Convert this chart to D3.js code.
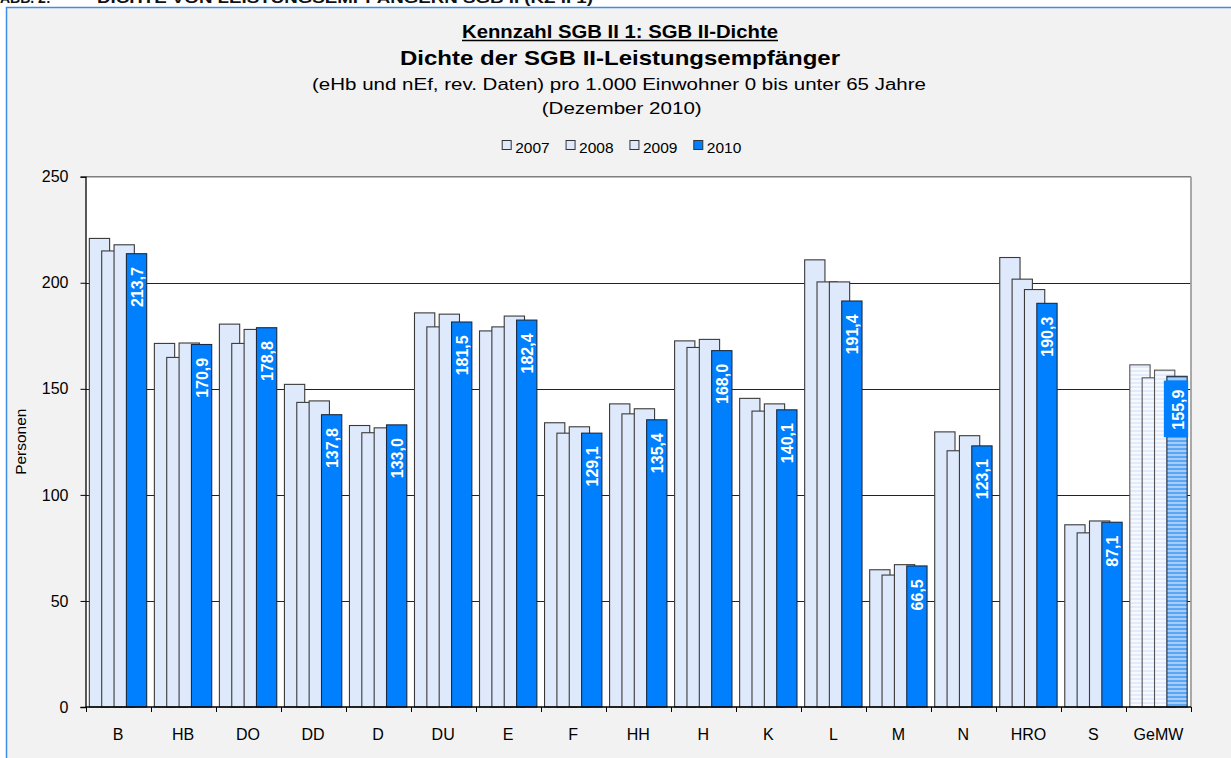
<!DOCTYPE html>
<html><head><meta charset="utf-8">
<script src="https://cdn.jsdelivr.net/npm/d3@7"></script>
<style>
html,body{margin:0;padding:0;background:#fff;}
svg{display:block;font-family:"Liberation Sans",Arial,sans-serif;}
</style></head>
<body>
<svg id="chart" width="1231" height="758"></svg>
<script>
const categories = ["B","HB","DO","DD","D","DU","E","F","HH","H","K","L","M","N","HRO","S","GeMW"];
const years = ["2007","2008","2009","2010"];
const v2007 = [220.9,171.4,180.5,152.1,132.7,185.8,177.3,134.0,142.9,172.6,145.5,210.8,64.7,129.7,211.9,85.9,161.3];
const v2008 = [215.0,164.8,171.4,143.6,129.3,179.2,179.2,129.1,138.2,169.5,139.5,200.4,62.2,120.8,201.7,82.1,155.2];
const v2009 = [217.9,171.6,178.0,144.3,131.6,185.2,184.3,132.1,140.6,173.3,142.9,200.4,67.1,127.9,196.8,87.7,158.8];
const v2010 = [213.7,170.9,178.8,137.8,133.0,181.5,182.4,129.1,135.4,168.0,140.1,191.4,66.5,123.1,190.3,87.1,155.9];
const yTicks = [0,50,100,150,200,250];
const seriesValues = [v2007,v2008,v2009,v2010];

const svg = d3.select("#chart");
const defs = svg.append("defs");
function stripes(id, c1, c2){
  const p = defs.append("pattern").attr("id",id).attr("patternUnits","userSpaceOnUse")
    .attr("width",4).attr("height",4);
  p.append("rect").attr("width",4).attr("height",4).attr("fill",c1);
  p.append("rect").attr("y",2).attr("width",4).attr("height",2).attr("fill",c2);
}
stripes("hatchLight","#f6f9fe","#e3ebfa");
stripes("hatchBlue","#5aa6f4","#a6cdf8");

// page header (cut off at top)
svg.append("text").attr("x",0).attr("y",3).attr("font-size",14).attr("font-weight","bold")
  .attr("fill","#111").text("ABB. 2:");
svg.append("text").attr("x",97).attr("y",3).attr("font-size",14).attr("font-weight","bold")
  .attr("fill","#111").attr("textLength",496).attr("lengthAdjust","spacingAndGlyphs")
  .text("DICHTE VON LEISTUNGSEMPFÄNGERN SGB II (KZ II 1)");

// frame
svg.append("rect").attr("x",6.5).attr("y",7.5).attr("width",1240).attr("height",770)
  .attr("fill","#f2f2f2").attr("stroke","#3c8de3").attr("stroke-width",1.5);

// titles
const cx = 620;
svg.append("text").attr("x",cx).attr("y",38).attr("text-anchor","middle")
  .attr("font-size",18).attr("font-weight","bold").attr("fill","#000")
  .attr("textLength",316).attr("lengthAdjust","spacingAndGlyphs")
  .text("Kennzahl SGB II 1: SGB II-Dichte");
svg.append("line").attr("x1",cx-158).attr("x2",cx+158).attr("y1",40.5).attr("y2",40.5)
  .attr("stroke","#000").attr("stroke-width",1.3);
svg.append("text").attr("x",cx).attr("y",65).attr("text-anchor","middle")
  .attr("font-size",21).attr("font-weight","bold").attr("fill","#000")
  .attr("textLength",440).attr("lengthAdjust","spacingAndGlyphs")
  .text("Dichte der SGB II-Leistungsempfänger");
svg.append("text").attr("x",619).attr("y",90).attr("text-anchor","middle")
  .attr("font-size",16).attr("fill","#000")
  .attr("textLength",614).attr("lengthAdjust","spacingAndGlyphs")
  .text("(eHb und nEf, rev. Daten) pro 1.000 Einwohner 0 bis unter 65 Jahre");
svg.append("text").attr("x",621.7).attr("y",114.3).attr("text-anchor","middle")
  .attr("font-size",16).attr("fill","#000")
  .attr("textLength",160).attr("lengthAdjust","spacingAndGlyphs")
  .text("(Dezember 2010)");

// legend
const lightFill = "#dfe9fc", blueFill = "#0080ff";
const legendFill = [lightFill, lightFill, lightFill, blueFill];
const legendX = d3.scalePoint().domain(years).range([501.7, 693.3]);
years.forEach((yr,i)=>{
  const lx = legendX(yr);
  svg.append("rect").attr("x",lx+0.5).attr("y",140.5).attr("width",9).attr("height",9)
    .attr("fill",legendFill[i]).attr("stroke","#333").attr("stroke-width",1);
  svg.append("text").attr("x",lx+13.5).attr("y",152.7).attr("font-size",15.5)
    .attr("fill","#000").text(yr);
});

// plot
const pL = 85.5, pR = 1191, pT = 176.7, pB = 707;
const x = d3.scaleBand().domain(categories).range([pL,pR]).padding(0);
const y = d3.scaleLinear().domain([0,250]).range([pB,pT]);

svg.append("rect").attr("x",pL).attr("y",pT).attr("width",pR-pL).attr("height",pB-pT)
  .attr("fill","#fff");

// gridlines
svg.append("g").selectAll("line").data(yTicks.filter(t=>t>0 && t<250)).join("line")
  .attr("x1",pL).attr("x2",pR)
  .attr("y1",d=>Math.round(y(d))+0.5).attr("y2",d=>Math.round(y(d))+0.5)
  .attr("stroke","#222").attr("stroke-width",1);

// plot border top/right
svg.append("line").attr("x1",pL).attr("x2",pR).attr("y1",pT).attr("y2",pT)
  .attr("stroke","#7f7f7f").attr("stroke-width",1.6);
svg.append("line").attr("x1",pR).attr("x2",pR).attr("y1",pT).attr("y2",pB)
  .attr("stroke","#a0a0a0").attr("stroke-width",1.8);

// bars
const bw = x.bandwidth();
const barW = bw*0.312, step = bw*0.19;
const groupW = 3*step + barW;
const off = (bw-groupW)/2;
const lastIdx = categories.length-1;
function fillFor(si, ci){
  if (ci === lastIdx) return si===3 ? "url(#hatchBlue)" : "url(#hatchLight)";
  return si===3 ? blueFill : lightFill;
}
seriesValues.forEach((vals,si)=>{
  svg.append("g").selectAll("rect").data(vals).join("rect")
    .attr("x",(d,i)=>x(categories[i])+off+si*step)
    .attr("y",d=>y(d))
    .attr("width",barW)
    .attr("height",d=>pB-y(d))
    .attr("fill",(d,i)=>fillFor(si,i))
    .attr("stroke",(d,i)=> i===lastIdx && si<3 ? "#555" : (si===3 ? "#1a2a40" : "#3a3a3a"))
    .attr("stroke-width",1.1);
});

// data labels for 2010
const fmt = v => d3.format(".1f")(v).replace(".",",");
v2010.forEach((v,i)=>{
  const bx = x(categories[i])+off+3*step;
  const bcx = bx + barW/2;
  const yt = y(v);
  const g = svg.append("g");
  const t = g.append("text")
    .attr("transform",`translate(${bcx+6.5},${yt+13.3}) rotate(-90)`)
    .attr("text-anchor","end").attr("font-size",16).attr("font-weight","bold")
    .attr("fill","#fff").text(fmt(v));
  if (i===lastIdx){
    const len = t.node().getComputedTextLength();
    g.insert("rect","text").attr("x",bx-3).attr("y",yt+4.3)
      .attr("width",barW+4).attr("height",len+9+7.5).attr("fill",blueFill);
  }
});

// axes
const yAxis = d3.axisLeft(y).tickValues(yTicks).tickSize(5).tickPadding(12).tickFormat(d3.format("d"));
const gy = svg.append("g").attr("transform",`translate(${pL},0)`).call(yAxis);
gy.select(".domain").attr("stroke","#000").attr("stroke-width",1.3);
gy.selectAll(".tick line").attr("stroke","#000");
gy.selectAll(".tick text").attr("font-size",16).attr("fill","#000")
  .attr("font-family","Liberation Sans, Arial, sans-serif");

// x axis: line, boundary ticks, labels
svg.append("line").attr("x1",pL).attr("x2",pR).attr("y1",pB).attr("y2",pB)
  .attr("stroke","#000").attr("stroke-width",1.5);
const bounds = categories.map(c=>x(c)).concat([pR]);
svg.append("g").selectAll("line").data(bounds).join("line")
  .attr("x1",d=>Math.round(d)+0.5).attr("x2",d=>Math.round(d)+0.5)
  .attr("y1",pB).attr("y2",pB+5).attr("stroke","#000");
svg.append("g").selectAll("text").data(categories).join("text")
  .attr("x",d=>x(d)+bw/2).attr("y",740).attr("text-anchor","middle")
  .attr("font-size",16).attr("fill","#000").text(d=>d);

// y title
svg.append("text").attr("transform","translate(26,441.7) rotate(-90)")
  .attr("text-anchor","middle").attr("font-size",15.5).attr("fill","#000").text("Personen");
</script>
</body></html>
